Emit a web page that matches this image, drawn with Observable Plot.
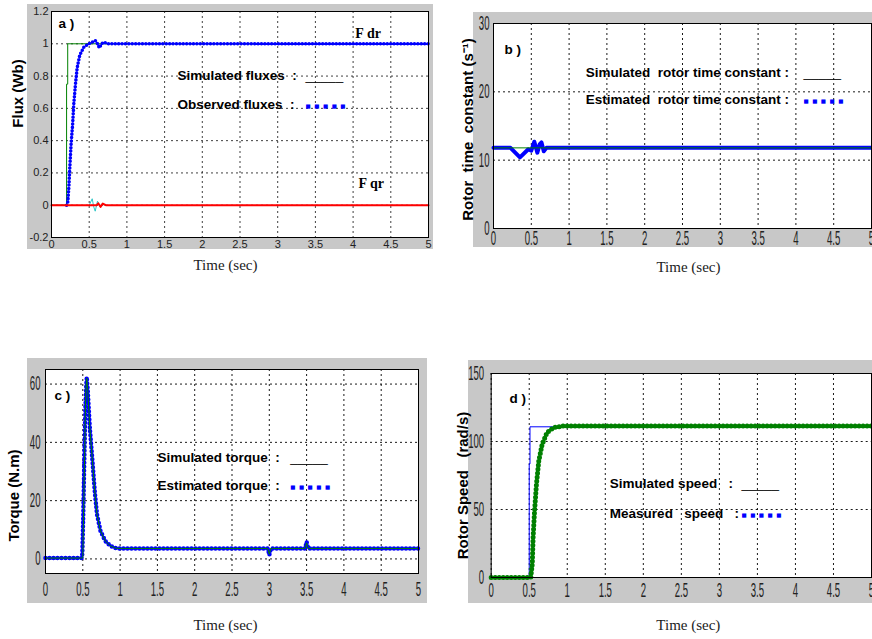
<!DOCTYPE html>
<html><head><meta charset="utf-8">
<script src="https://cdn.jsdelivr.net/npm/d3@7"></script>
<script src="https://cdn.jsdelivr.net/npm/@observablehq/plot@0.6"></script>
<style>
html,body{margin:0;padding:0;background:#fff;overflow:hidden;}
#root{position:relative;width:872px;height:639px;overflow:hidden;background:#fff;}
.gray{position:absolute;background:#c8c8c8;}
.panel{position:absolute;}
.panel svg{overflow:visible;}
svg text{white-space:pre;}
</style></head><body><div id="root"></div>
<script>
// ---------- shared time axis ----------
const timeTicks = [0,0.5,1,1.5,2,2.5,3,3.5,4,4.5,5];
const timeTickLabels = ["0","0.5","1","1.5","2","2.5","3","3.5","4","4.5","5"];

// ---------- panel a : fluxes ----------
const fluxTicks = [-0.2,0,0.2,0.4,0.6,0.8,1,1.2];
const fluxTickLabels = ["-0.2","0","0.2","0.4","0.6","0.8","1","1.2"];
const simFdrTime  = [0, 0.2, 0.2, 0.215, 0.215, 5];
const simFdrValue = [0, 0, 0.75, 0.75, 1, 1];
const obsFdrTime  = [0.2, 0.216, 0.23, 0.243, 0.26, 0.28, 0.296, 0.318, 0.34, 0.375, 0.43, 0.495, 0.54, 0.58, 0.61, 0.635, 0.665, 0.69, 0.75, 1.0, 5];
const obsFdrValue = [0, 0.02, 0.11, 0.235, 0.38, 0.5, 0.63, 0.75, 0.85, 0.93, 0.98, 1.0, 1.01, 1.02, 1.0, 0.975, 1.0, 1.01, 1.0, 1.0, 1.0];
const simFqrTime  = [0, 0.6, 0.62, 0.65, 0.68, 0.72, 5];
const simFqrValue = [0, 0, 0.012, -0.01, 0.01, 0, 0];
const obsFqrTime  = [0.5, 0.54, 0.56, 0.58, 0.61, 0.64, 0.67, 0.7];
const obsFqrValue = [0, 0.04, -0.01, -0.037, 0.025, -0.01, 0.01, 0];
const fluxNotes = [
  {text:"a )", t:0.093, v:1.126},
  {text:"Simulated fluxes  :", t:1.67, v:0.80},
  {text:"Observed fluxes  :", t:1.67, v:0.62}
];
const fluxCurveNames = [{text:"F dr", t:4.03, v:1.064}, {text:"F qr", t:4.07, v:0.134}];
const fluxSamples = {t:3.37, vLine:0.80, vDots:0.62};

// ---------- panel b : rotor time constant ----------
const tcTicks = [0,10,20,30];
const tcTickLabels = ["0","10","20","30"];
const simTcTime  = [0, 5];
const simTcValue = [11.8, 11.8];
const estTcTime  = [0, 0.225, 0.35, 0.46, 0.5, 0.54, 0.58, 0.61, 0.635, 0.665, 0.7, 5];
const estTcValue = [11.8, 11.8, 10.4, 11.6, 11.4, 12.7, 11.1, 12.3, 12.6, 11.3, 11.8, 11.8];
const tcNotes = [
  {text:"b )", t:0.145, v:26.2},
  {text:"Simulated  rotor time constant :", t:1.22, v:22.8},
  {text:"Estimated  rotor time constant :", t:1.22, v:18.8}
];
const tcSamples = {t:4.1, vLine:22.8, vDots:18.8};

// ---------- panel c : torque ----------
const torqueTicks = [0,20,40,60];
const torqueTickLabels = ["0","20","40","60"];
const simTorqueTime  = [0, 0.495, 0.5, 0.54, 0.553, 0.567, 0.594, 0.626, 0.66, 0.69, 0.737, 0.8, 0.87, 0.94, 1.0, 2.98, 3.0, 3.02, 3.48, 3.5, 3.52, 5];
const simTorqueValue = [0.3, 0.3, 0.5, 58, 62, 57.6, 45, 34.7, 23.3, 15.3, 9.6, 6.2, 4.5, 3.7, 3.6, 3.6, 1.6, 3.6, 3.6, 5.5, 3.6, 3.6];
const estTorqueTime  = [0, 0.49, 0.495, 0.505, 0.515, 0.525, 0.535, 0.545, 0.553, 0.567, 0.594, 0.626, 0.66, 0.69, 0.737, 0.8, 0.87, 0.94, 1.0, 2.98, 3.0, 3.02, 3.48, 3.5, 3.52, 5];
const estTorqueValue = [0.3, 0.3, 3, 13.7, 27, 40, 52, 59, 62.4, 57.6, 45, 34.7, 23.3, 15.3, 9.6, 6.2, 4.5, 3.7, 3.6, 3.6, 1.3, 3.6, 3.6, 5.9, 3.6, 3.6];
const torqueNotes = [
  {text:"c )", t:0.12, v:55.9},
  {text:"Simulated torque  :", t:1.5, v:34.6},
  {text:"Estimated torque  :", t:1.5, v:25}
];
const torqueSamples = {t:3.28, vLine:34.6, vDots:25};

// ---------- panel d : rotor speed ----------
const speedTicks = [0,50,100,150];
const speedTickLabels = ["0","50","100","150"];
const stepSpeedTime  = [0, 0.5, 0.5, 0.51, 0.51, 5];
const stepSpeedValue = [0, 0, 83.5, 83.5, 110.8, 110.8];
const rotorSpeedTime  = [0, 0.52, 0.54, 0.551, 0.57, 0.595, 0.626, 0.67, 0.735, 0.823, 0.95, 5];
const rotorSpeedValue = [0, 0, 10, 29.6, 49, 68.7, 85.8, 98, 106.7, 110.3, 111.4, 111.4];
const speedNotes = [
  {text:"d )", t:0.24, v:131.4},
  {text:"Simulated speed   :", t:1.56, v:69},
  {text:"Measured   speed   :", t:1.56, v:47}
];
const speedSamples = {t:3.29, vLine:69, vDots:47};

const timeTitle = "Time (sec)";

// ---------- helpers ----------
const rows = (T, V) => T.map((t, i) => ({t, v: V[i]}));
const fmt = (ticks, labels) => d => labels[ticks.indexOf(d)];
const SANS = "Liberation Sans, Arial, sans-serif";
const SERIF = "Liberation Serif, Times New Roman, serif";
const BLUE = "#0000ff", GREEN = "#008000";

function makePanel(cfg) {
  const root = document.getElementById("root");
  const g = document.createElement("div");
  g.className = "gray";
  Object.assign(g.style, {left: cfg.gray[0]+"px", top: cfg.gray[1]+"px", width: cfg.gray[2]+"px", height: cfg.gray[3]+"px"});
  root.appendChild(g);
  const narrow = cfg.narrow;
  const tickFont = narrow ? {fontSize: 20, fontFamily: SANS} : {fontSize: 11, fontFamily: SANS};
  const marks = [
    Plot.frame({fill: "white"}),
    Plot.gridX({ticks: timeTicks, stroke: "#000", strokeOpacity: narrow ? 0.9 : 0.75, strokeDasharray: "2,3"}),
    Plot.gridY({ticks: cfg.yTicks, stroke: "#000", strokeOpacity: narrow ? 0.9 : 0.75, strokeDasharray: "2,3"}),
    Plot.axisX({ticks: timeTicks, tickFormat: fmt(timeTicks, timeTickLabels), tickSize: 0, tickPadding: cfg.xPad, label: null, color: "#222", ...tickFont}),
    Plot.axisY({ticks: cfg.yTicks, tickFormat: fmt(cfg.yTicks, cfg.yLabels), tickSize: 0, tickPadding: cfg.yPad, label: null, color: "#222", ...tickFont}),
    ...cfg.series,
    Plot.text(cfg.notes, {x: "t", y: "v", text: "text", textAnchor: "start", fontFamily: SANS, fontWeight: "bold", fontSize: 13.5, fill: "#000"}),
    Plot.text([cfg.samples], {x: "t", y: "vLine", text: () => "_____", textAnchor: "start", fontFamily: SANS, fontSize: 13.5, fill: "#000"}),
    Plot.text([cfg.samples], {x: "t", y: "vDots", text: () => "■  ■  ■  ■  ■", textAnchor: "start", fontFamily: "DejaVu Sans", fontSize: 5.5, dy: 1.5, fill: BLUE}),
    ...(cfg.extra || []),
    Plot.text([cfg.yTitle], {frameAnchor: "left", text: d => d, rotate: -90, textAnchor: "middle", lineAnchor: "middle", dx: cfg.yTitleD[0], dy: cfg.yTitleD[1], fontFamily: SANS, fontWeight: "bold", fontSize: 15, fill: "#000"}),
    Plot.text([timeTitle], {frameAnchor: "bottom", text: d => d, textAnchor: "middle", lineAnchor: "middle", dx: cfg.tTitleD[0], dy: cfg.tTitleD[1], fontFamily: SERIF, fontSize: 15, fill: "#222"}),
    Plot.frame({stroke: "#000", strokeWidth: 1})
  ];
  const svg = Plot.plot({
    width: cfg.size[0], height: cfg.size[1],
    marginTop: cfg.m[0], marginRight: cfg.m[1], marginBottom: cfg.m[2], marginLeft: cfg.m[3],
    x: {domain: [0, 5], label: null},
    y: {domain: cfg.yDomain, label: null},
    style: {background: "transparent", overflow: "visible", maxWidth: "none"},
    marks
  });
  if (narrow) {
    svg.querySelectorAll('g[aria-label="x-axis tick label"] text, g[aria-label="y-axis tick label"] text').forEach(t => {
      const tr = t.getAttribute("transform") || "";
      t.setAttribute("transform", tr + " scale(0.48,1)");
    });
  }
  const wrap = document.createElement("div");
  wrap.className = "panel";
  Object.assign(wrap.style, {left: cfg.pos[0]+"px", top: cfg.pos[1]+"px"});
  wrap.appendChild(svg);
  root.appendChild(wrap);
}

const dotted = (data, stroke, w, gap) => Plot.line(data, {x: "t", y: "v", stroke, strokeWidth: w, strokeDasharray: `0,${gap}`, strokeLinecap: "round", strokeLinejoin: "round"});

// panel a
makePanel({
  pos: [0, 0], size: [440, 280], m: [11, 12, 43, 51], gray: [27, 4, 406, 245],
  yDomain: [-0.2, 1.2], yTicks: fluxTicks, yLabels: fluxTickLabels, narrow: false, xPad: 3, yPad: 3,
  series: [
    Plot.line(rows(simFdrTime, simFdrValue), {x: "t", y: "v", stroke: GREEN, strokeWidth: 1}),
    dotted(rows(obsFdrTime, obsFdrValue), BLUE, 3.6, 3.4),
    Plot.line(rows(obsFqrTime, obsFqrValue), {x: "t", y: "v", stroke: "#2cc7c7", strokeWidth: 1}),
    Plot.line(rows(simFqrTime, simFqrValue), {x: "t", y: "v", stroke: "#ff0000", strokeWidth: 2})
  ],
  notes: fluxNotes, samples: fluxSamples,
  extra: [Plot.text(fluxCurveNames, {x: "t", y: "v", text: "text", textAnchor: "start", fontFamily: SERIF, fontWeight: "bold", fontSize: 14, fill: "#000"})],
  yTitle: "Flux (Wb)", yTitleD: [-33, -31], tTitleD: [-14.5, 28]
});

// panel b
makePanel({
  pos: [436, 0], size: [450, 280], m: [23, 15, 52, 57], gray: [473, 12, 400, 235],
  yDomain: [0, 30], yTicks: tcTicks, yLabels: tcTickLabels, narrow: true, xPad: 2, yPad: 4,
  series: [
    Plot.line(rows(estTcTime, estTcValue), {x: "t", y: "v", stroke: BLUE, strokeWidth: 4, strokeLinejoin: "round"}),
    Plot.line(rows(simTcTime, simTcValue), {x: "t", y: "v", stroke: GREEN, strokeWidth: 1})
  ],
  notes: tcNotes, samples: tcSamples,
  yTitle: "Rotor  time  constant (s⁻¹)", yTitleD: [-25, 3.5], tTitleD: [6, 39]
});

// panel c
makePanel({
  pos: [0, 350], size: [440, 290], m: [19, 22, 67, 45], gray: [27, 358, 400, 245],
  yDomain: [-5, 65], yTicks: torqueTicks, yLabels: torqueTickLabels, narrow: true, xPad: 8, yPad: 5,
  series: [
    dotted(rows(estTorqueTime, estTorqueValue), BLUE, 4.5, 4),
    Plot.line(rows(simTorqueTime, simTorqueValue), {x: "t", y: "v", stroke: GREEN, strokeWidth: 1})
  ],
  notes: torqueNotes, samples: torqueSamples,
  yTitle: "Torque (N.m)", yTitleD: [-31, 24], tTitleD: [-6.5, 52]
});

// panel d
makePanel({
  pos: [436, 350], size: [450, 290], m: [23, 15, 63, 54.7], gray: [468, 360, 405, 243],
  yDomain: [0, 150], yTicks: speedTicks, yLabels: speedTickLabels, narrow: true, xPad: 5, yPad: 7,
  series: [
    Plot.line(rows(stepSpeedTime, stepSpeedValue), {x: "t", y: "v", stroke: BLUE, strokeWidth: 1}),
    dotted(rows(rotorSpeedTime, rotorSpeedValue), GREEN, 5, 4)
  ],
  notes: speedNotes, samples: speedSamples,
  yTitle: "Rotor Speed   (rad/s)", yTitleD: [-28.5, 10], tTitleD: [7, 48]
});
</script></body></html>
